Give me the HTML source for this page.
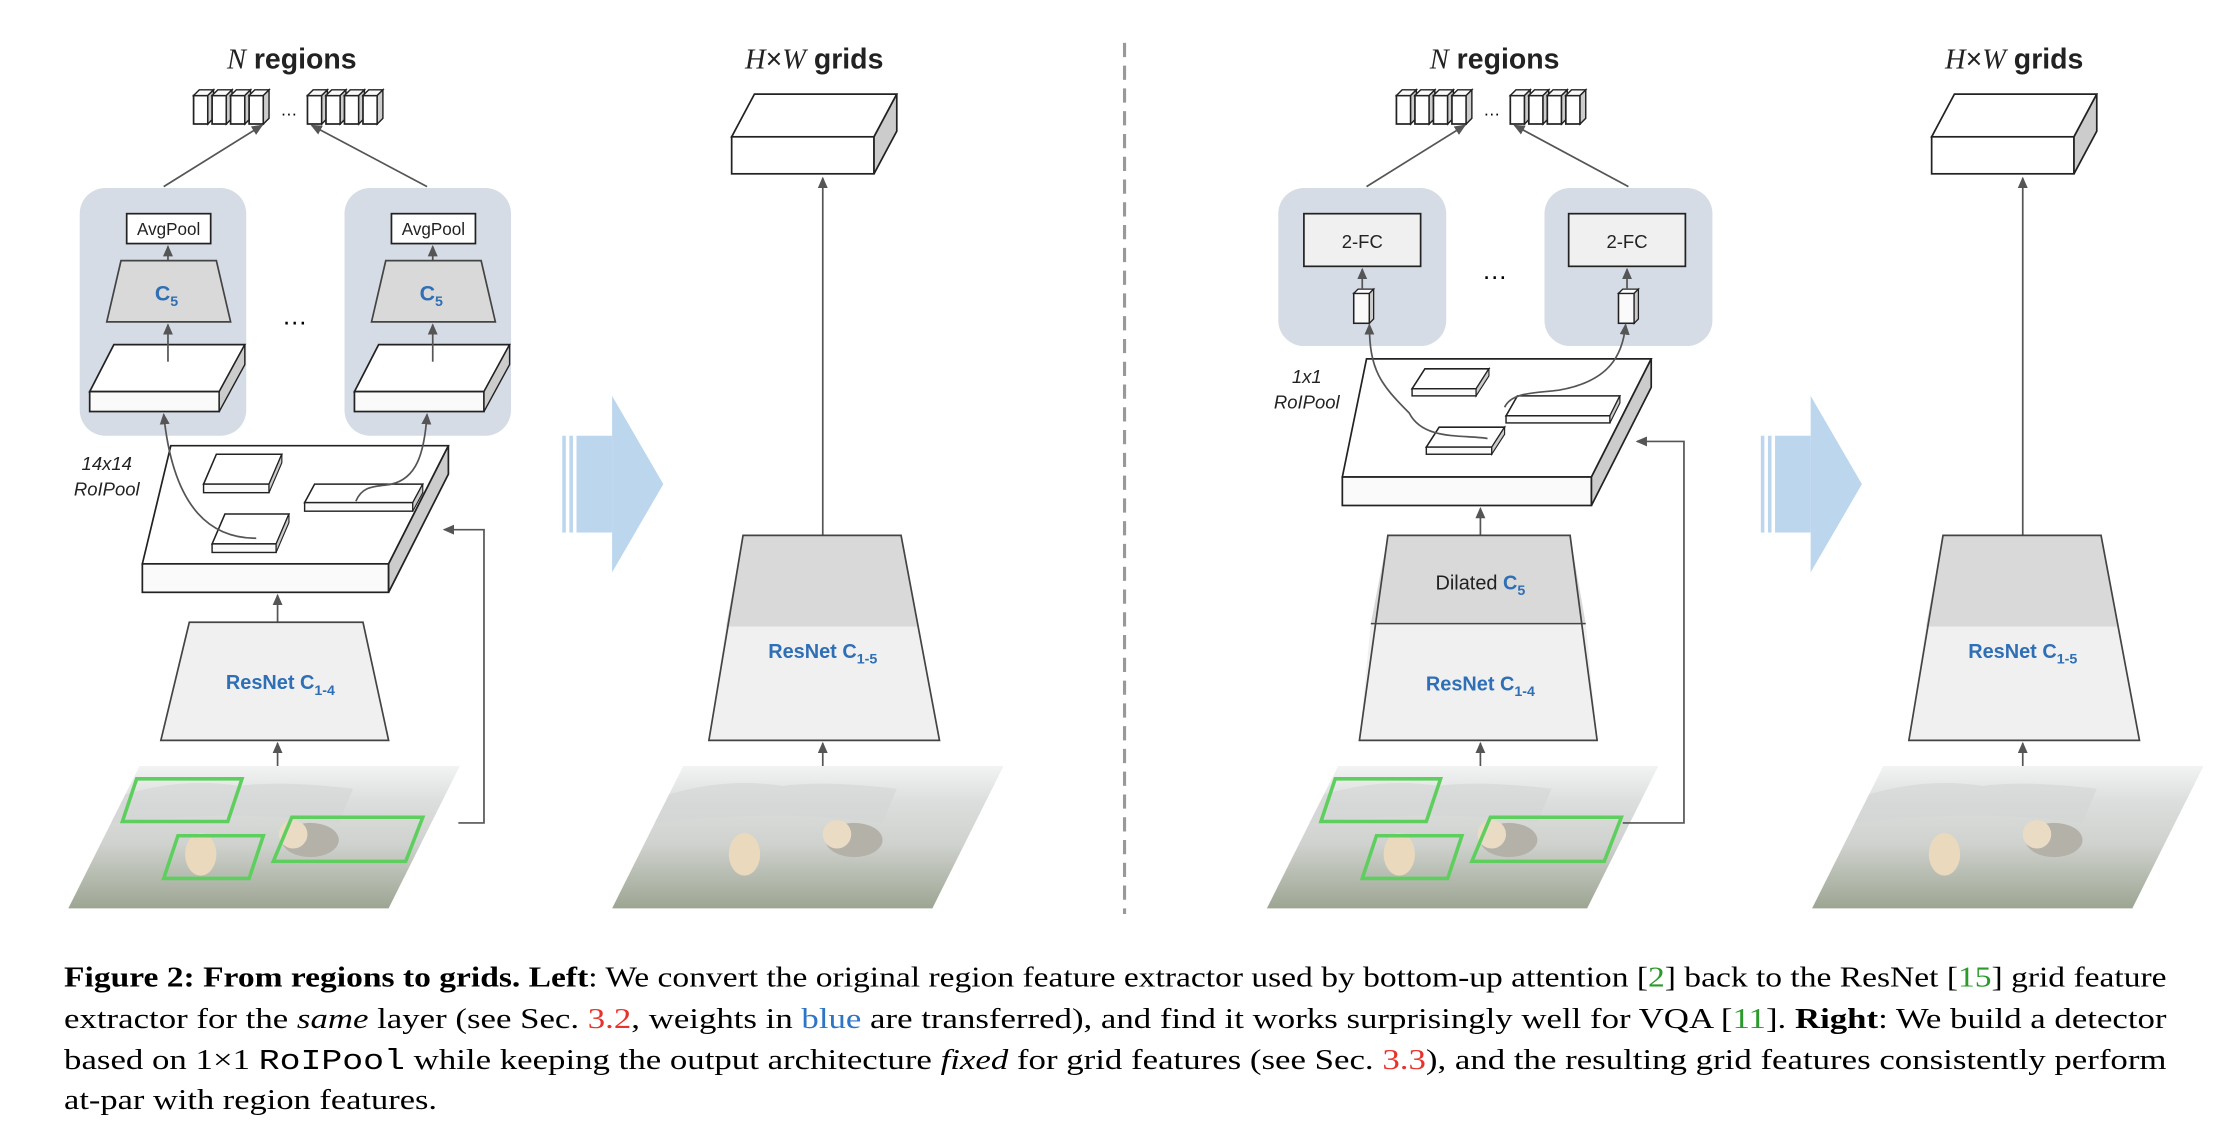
<!DOCTYPE html>
<html><head><meta charset="utf-8"><style>
html,body{margin:0;padding:0;background:#fff;width:2232px;height:1122px;overflow:hidden}
svg{display:block}
.s{font-family:"Liberation Sans",sans-serif}
.cap{font-family:"Liberation Serif",serif;font-size:20px;fill:#000}
</style></head><body>
<svg width="2232" height="1122" viewBox="0 0 1568 788" xmlns="http://www.w3.org/2000/svg">
<defs>
<marker id="ah" markerWidth="8" markerHeight="8" refX="7" refY="4" orient="auto" markerUnits="userSpaceOnUse">
<path d="M0,0.5 L8,4 L0,7.5 z" fill="#555"/></marker>
<linearGradient id="ph" x1="0" y1="0" x2="0" y2="1">
<stop offset="0" stop-color="#f2f3f3"/><stop offset="0.25" stop-color="#dcdedd"/>
<stop offset="0.55" stop-color="#cfd2ce"/><stop offset="1" stop-color="#9da592"/></linearGradient>
<g id="cube"><rect x="0" y="4" width="10" height="20" fill="#fff" stroke="#222" stroke-width="1.2"/>
<polygon points="0,4 4,0 14,0 10,4" fill="#fafafa" stroke="#222" stroke-width="1"/>
<polygon points="10,4 14,0 14,20 10,24" fill="#ccc" stroke="#222" stroke-width="1"/></g>
<g id="cubes"><use href="#cube" x="0"/><use href="#cube" x="13"/><use href="#cube" x="26"/><use href="#cube" x="39"/>
<text x="67" y="18" font-size="12" text-anchor="middle" class="s">…</text>
<use href="#cube" x="80"/><use href="#cube" x="93"/><use href="#cube" x="106"/><use href="#cube" x="119"/></g>
<g id="photo"><polygon points="50,0 275,0 225,100 0,100" fill="url(#ph)"/>
<path d="M40,20 Q80,8 120,14 Q150,10 200,16 L190,40 Q120,30 30,40 z" fill="#d2d5d4" opacity="0.6"/>
<ellipse cx="93" cy="62" rx="11" ry="15" fill="#ead9bd"/>
<ellipse cx="170" cy="52" rx="20" ry="12" fill="#b3b1a8"/>
<ellipse cx="158" cy="48" rx="10" ry="10" fill="#eadcc4"/></g>
<g id="grid"><polygon points="514,96 530,66 630,66 614,96" fill="#fff" stroke="#222" stroke-width="1.2"/>
<rect x="514" y="96" width="100" height="26" fill="#fff" stroke="#222" stroke-width="1.2"/>
<polygon points="614,96 630,66 630,92 614,122" fill="#ccc" stroke="#222" stroke-width="1.2"/>
<line x1="578" y1="376" x2="578" y2="125" stroke="#555" stroke-width="1.2" marker-end="url(#ah)"/>
<polygon points="522,376 633,376 645,440 510,440" fill="#d9d9d9"/>
<polygon points="510,440 645,440 660,520 498,520" fill="#f0f0f0"/>
<polygon points="522,376 633,376 660,520 498,520" fill="none" stroke="#444" stroke-width="1.2"/>
<text x="578" y="462" font-size="14" font-weight="bold" fill="#2e6fb5" text-anchor="middle" class="s">ResNet C<tspan font-size="10" dy="4">1-5</tspan></text>
<line x1="578" y1="538" x2="578" y2="522" stroke="#555" stroke-width="1.2" marker-end="url(#ah)"/>
<use href="#photo" x="430" y="538"/></g>
<g id="barrow"><rect x="395" y="306" width="2.5" height="68" fill="#bcd6ee"/><rect x="400" y="306" width="2.5" height="68" fill="#bcd6ee"/>
<rect x="405" y="306" width="25" height="68" fill="#bcd6ee"/>
<polygon points="430,278 466,340 430,402" fill="#bcd6ee"/></g>
</defs>
<rect width="1568" height="788" fill="#fff"/>

<text x="205" y="48" font-size="20" font-weight="bold" text-anchor="middle" class="s" fill="#222"><tspan font-family="Liberation Serif" font-style="italic" font-weight="normal">N</tspan> regions</text>
<use href="#cubes" x="136" y="63"/>
<line x1="115" y1="131" x2="184" y2="88" stroke="#555" stroke-width="1.2" marker-end="url(#ah)"/>
<line x1="300" y1="131" x2="219" y2="88" stroke="#555" stroke-width="1.2" marker-end="url(#ah)"/>
<rect x="56" y="132" width="117" height="174" rx="18" fill="#d6dce6"/>
<rect x="242" y="132" width="117" height="174" rx="18" fill="#d6dce6"/>
<g id="lb">
<rect x="89" y="150" width="59" height="21" fill="#fff" stroke="#222" stroke-width="1.2"/>
<text x="118.5" y="165" font-size="12" text-anchor="middle" class="s" fill="#222">AvgPool</text>
<line x1="118" y1="183" x2="118" y2="173" stroke="#555" stroke-width="1.2" marker-end="url(#ah)"/>
<polygon points="85,183 152,183 162,226 75,226" fill="#d9d9d9" stroke="#444" stroke-width="1.2"/>
<text x="117" y="211" font-size="15" font-weight="bold" fill="#2e6fb5" text-anchor="middle" class="s">C<tspan font-size="10" dy="4">5</tspan></text>
<polygon points="80,242 172,242 154,275 63,275" fill="#fff" stroke="#222" stroke-width="1.2"/>
<rect x="63" y="275" width="91" height="14" fill="#fafafa" stroke="#222" stroke-width="1.2"/>
<polygon points="154,275 172,242 172,256 154,289" fill="#ccc" stroke="#222" stroke-width="1"/>
<line x1="118" y1="254" x2="118" y2="228" stroke="#555" stroke-width="1.2" marker-end="url(#ah)"/>
</g>
<use href="#lb" x="186"/>
<text x="207" y="228" font-size="18" text-anchor="middle" class="s">…</text>
<text x="75" y="330" font-size="13" font-style="italic" text-anchor="middle" class="s" fill="#222">14x14</text>
<text x="75" y="348" font-size="13" font-style="italic" text-anchor="middle" class="s" fill="#222">RoIPool</text>
<polygon points="120,313 315,313 273,396 100,396" fill="#fff" stroke="#222" stroke-width="1.2"/>
<rect x="100" y="396" width="173" height="20" fill="#fafafa" stroke="#222" stroke-width="1.2"/>
<polygon points="273,396 315,313 315,333 273,416" fill="#ccc" stroke="#222" stroke-width="1.2"/>
<polygon points="152,319 198,319 189,340 143,340" fill="#fff" stroke="#222" stroke-width="1.1"/><rect x="143" y="340" width="46" height="6" fill="#fafafa" stroke="#222" stroke-width="1"/><polygon points="189,340 198,319 198,325 189,346" fill="#ccc" stroke="#222" stroke-width="0.8"/>
<polygon points="158,361 203,361 194,382 149,382" fill="#fff" stroke="#222" stroke-width="1.1"/><rect x="149" y="382" width="45" height="6" fill="#fafafa" stroke="#222" stroke-width="1"/><polygon points="194,382 203,361 203,367 194,388" fill="#ccc" stroke="#222" stroke-width="0.8"/>
<polygon points="221,340 297,340 290,353 214,353" fill="#fff" stroke="#222" stroke-width="1.1"/><rect x="214" y="353" width="76" height="6" fill="#fafafa" stroke="#222" stroke-width="1"/><polygon points="290,353 297,340 297,346 290,359" fill="#ccc" stroke="#222" stroke-width="0.8"/>
<path d="M180,378 C150,378 122,360 115,291" fill="none" stroke="#555" stroke-width="1.2" marker-end="url(#ah)"/>
<path d="M250,352 C255,340 265,342 275,340 C292,336 298,320 300,291" fill="none" stroke="#555" stroke-width="1.2" marker-end="url(#ah)"/>
<line x1="195" y1="437" x2="195" y2="418" stroke="#555" stroke-width="1.2" marker-end="url(#ah)"/>
<polygon points="133,437 255,437 273,520 113,520" fill="#f0f0f0" stroke="#444" stroke-width="1.2"/>
<text x="197" y="484" font-size="14" font-weight="bold" fill="#2e6fb5" text-anchor="middle" class="s">ResNet C<tspan font-size="10" dy="4">1-4</tspan></text>
<line x1="195" y1="538" x2="195" y2="522" stroke="#555" stroke-width="1.2" marker-end="url(#ah)"/>
<use href="#photo" x="48" y="538"/>
<polygon points="96,547 170,547 160,577 86,577" fill="none" stroke="#5ecf5e" stroke-width="2.5"/>
<polygon points="125,587 185,587 175,617 115,617" fill="none" stroke="#5ecf5e" stroke-width="2.5"/>
<polygon points="205,574 297,574 285,605 192,605" fill="none" stroke="#5ecf5e" stroke-width="2.5"/>
<polyline points="322,578 340,578 340,372 312,372" fill="none" stroke="#555" stroke-width="1.2" marker-end="url(#ah)"/>

<use href="#barrow"/>
<use href="#grid"/>
<text x="572" y="48" font-size="20" font-weight="bold" text-anchor="middle" class="s" fill="#222"><tspan font-family="Liberation Serif" font-style="italic" font-weight="normal">H</tspan><tspan font-weight="normal">×</tspan><tspan font-family="Liberation Serif" font-style="italic" font-weight="normal">W</tspan> grids</text>

<line x1="790" y1="30" x2="790" y2="642" stroke="#999" stroke-width="2.2" stroke-dasharray="10,6"/>

<text x="1050" y="48" font-size="20" font-weight="bold" text-anchor="middle" class="s" fill="#222"><tspan font-family="Liberation Serif" font-style="italic" font-weight="normal">N</tspan> regions</text>
<use href="#cubes" x="981" y="63"/>
<line x1="960" y1="131" x2="1029" y2="88" stroke="#555" stroke-width="1.2" marker-end="url(#ah)"/>
<line x1="1144" y1="131" x2="1064" y2="88" stroke="#555" stroke-width="1.2" marker-end="url(#ah)"/>
<rect x="898" y="132" width="118" height="111" rx="18" fill="#d6dce6"/>
<rect x="1085" y="132" width="118" height="111" rx="18" fill="#d6dce6"/>
<rect x="916" y="150" width="82" height="37" fill="#f0f0f0" stroke="#222" stroke-width="1.2"/>
<text x="957" y="174" font-size="13" text-anchor="middle" class="s" fill="#222">2-FC</text>
<rect x="1102" y="150" width="82" height="37" fill="#f0f0f0" stroke="#222" stroke-width="1.2"/>
<text x="1143" y="174" font-size="13" text-anchor="middle" class="s" fill="#222">2-FC</text>
<g><rect x="951" y="206" width="11" height="21" fill="#fafafa" stroke="#222" stroke-width="1.1"/><polygon points="951,206 954,203 965,203 962,206" fill="#fff" stroke="#222" stroke-width="0.9"/><polygon points="962,206 965,203 965,224 962,227" fill="#ccc" stroke="#222" stroke-width="0.9"/></g>
<g><rect x="1137" y="206" width="11" height="21" fill="#fafafa" stroke="#222" stroke-width="1.1"/><polygon points="1137,206 1140,203 1151,203 1148,206" fill="#fff" stroke="#222" stroke-width="0.9"/><polygon points="1148,206 1151,203 1151,224 1148,227" fill="#ccc" stroke="#222" stroke-width="0.9"/></g>
<line x1="957" y1="203" x2="957" y2="189" stroke="#555" stroke-width="1.2" marker-end="url(#ah)"/>
<line x1="1143" y1="203" x2="1143" y2="189" stroke="#555" stroke-width="1.2" marker-end="url(#ah)"/>
<text x="1050" y="196" font-size="18" text-anchor="middle" class="s">…</text>
<text x="918" y="269" font-size="13" font-style="italic" text-anchor="middle" class="s" fill="#222">1x1</text>
<text x="918" y="287" font-size="13" font-style="italic" text-anchor="middle" class="s" fill="#222">RoIPool</text>
<polygon points="960,252 1160,252 1118,335 943,335" fill="#fff" stroke="#222" stroke-width="1.2"/>
<rect x="943" y="335" width="175" height="20" fill="#fafafa" stroke="#222" stroke-width="1.2"/>
<polygon points="1118,335 1160,252 1160,272 1118,355" fill="#ccc" stroke="#222" stroke-width="1.2"/>
<polygon points="1001,259 1046,259 1037,273 992,273" fill="#fff" stroke="#222" stroke-width="1.1"/><rect x="992" y="273" width="45" height="5" fill="#fafafa" stroke="#222" stroke-width="1"/><polygon points="1037,273 1046,259 1046,264 1037,278" fill="#ccc" stroke="#222" stroke-width="0.8"/>
<polygon points="1011,300 1057,300 1048,314 1002,314" fill="#fff" stroke="#222" stroke-width="1.1"/><rect x="1002" y="314" width="46" height="5" fill="#fafafa" stroke="#222" stroke-width="1"/><polygon points="1048,314 1057,300 1057,305 1048,319" fill="#ccc" stroke="#222" stroke-width="0.8"/>
<polygon points="1066,278 1138,278 1131,292 1058,292" fill="#fff" stroke="#222" stroke-width="1.1"/><rect x="1058" y="292" width="73" height="5" fill="#fafafa" stroke="#222" stroke-width="1"/><polygon points="1131,292 1138,278 1138,283 1131,297" fill="#ccc" stroke="#222" stroke-width="0.8"/>
<path d="M1045,308 C1030,305 1000,310 990,290 C970,270 962,260 962,228" fill="none" stroke="#555" stroke-width="1.2" marker-end="url(#ah)"/>
<path d="M1057,286 C1062,275 1080,276 1095,274 C1130,268 1140,250 1142,228" fill="none" stroke="#555" stroke-width="1.2" marker-end="url(#ah)"/>
<line x1="1040" y1="376" x2="1040" y2="357" stroke="#555" stroke-width="1.2" marker-end="url(#ah)"/>
<polygon points="975,376 1103,376 1114,438 963,438" fill="#d9d9d9"/>
<polygon points="963,438 1114,438 1122,520 955,520" fill="#f0f0f0"/>
<polygon points="975,376 1103,376 1122,520 955,520" fill="none" stroke="#444" stroke-width="1.2"/>
<line x1="963" y1="438" x2="1114" y2="438" stroke="#444" stroke-width="1"/>
<text x="1040" y="414" font-size="14" text-anchor="middle" class="s" fill="#222">Dilated <tspan font-weight="bold" fill="#2e6fb5">C</tspan><tspan font-size="10" dy="4" font-weight="bold" fill="#2e6fb5">5</tspan></text>
<text x="1040" y="485" font-size="14" font-weight="bold" fill="#2e6fb5" text-anchor="middle" class="s">ResNet C<tspan font-size="10" dy="4">1-4</tspan></text>
<line x1="1040" y1="538" x2="1040" y2="522" stroke="#555" stroke-width="1.2" marker-end="url(#ah)"/>
<use href="#photo" x="890" y="538"/>
<polygon points="938,547 1012,547 1002,577 928,577" fill="none" stroke="#5ecf5e" stroke-width="2.5"/>
<polygon points="967,587 1027,587 1017,617 957,617" fill="none" stroke="#5ecf5e" stroke-width="2.5"/>
<polygon points="1047,574 1139,574 1127,605 1034,605" fill="none" stroke="#5ecf5e" stroke-width="2.5"/>
<polyline points="1140,578 1183,578 1183,310 1150,310" fill="none" stroke="#555" stroke-width="1.2" marker-end="url(#ah)"/>

<use href="#barrow" x="842"/>
<use href="#grid" x="843"/>
<text x="1415" y="48" font-size="20" font-weight="bold" text-anchor="middle" class="s" fill="#222"><tspan font-family="Liberation Serif" font-style="italic" font-weight="normal">H</tspan><tspan font-weight="normal">×</tspan><tspan font-family="Liberation Serif" font-style="italic" font-weight="normal">W</tspan> grids</text>

<text class="cap" x="45" y="693" textLength="1477" lengthAdjust="spacingAndGlyphs"><tspan font-weight="bold">Figure 2: From regions to grids. Left</tspan>: We convert the original region feature extractor used by bottom-up attention [<tspan fill="#2a9a2a">2</tspan>] back to the ResNet [<tspan fill="#2a9a2a">15</tspan>] grid feature</text>
<text class="cap" x="45" y="722" textLength="1477" lengthAdjust="spacingAndGlyphs">extractor for the <tspan font-style="italic">same</tspan> layer (see Sec. <tspan fill="#e8332a">3.2</tspan>, weights in <tspan fill="#2e75c6">blue</tspan> are transferred), and find it works surprisingly well for VQA [<tspan fill="#2a9a2a">11</tspan>]. <tspan font-weight="bold">Right</tspan>: We build a detector</text>
<text class="cap" x="45" y="751" textLength="1477" lengthAdjust="spacingAndGlyphs">based on 1×1 <tspan font-family="Liberation Mono">RoIPool</tspan> while keeping the output architecture <tspan font-style="italic">fixed</tspan> for grid features (see Sec. <tspan fill="#e8332a">3.3</tspan>), and the resulting grid features consistently perform</text>
<text class="cap" x="45" y="779" textLength="262" lengthAdjust="spacingAndGlyphs">at-par with region features.</text>
</svg>
</body></html>
